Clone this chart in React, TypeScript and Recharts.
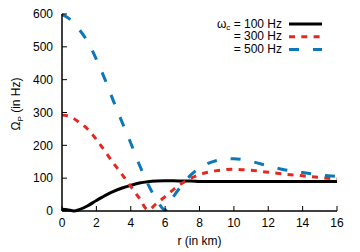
import React from "react";
import {
    LineChart,
    Line,
    XAxis,
    YAxis,
} from "recharts";

// radius (km) and the three precession curves
const rKm = [0, 0.3, 0.7, 1, 1.5, 2, 2.5, 3, 3.5, 4, 4.5, 5, 5.5, 6, 6.5, 7, 7.5, 8, 8.5, 9, 9.5, 10, 11, 12, 13, 14, 15, 16];
const omega100 = [5, 4, 0, 4, 16, 32, 47, 60, 70, 78, 85, 89, 91, 92, 92, 91, 91, 90, 90, 90, 90, 90, 90, 90, 90, 90, 90, 90];
const omega300 = [292, 290, 281, 270, 249, 218, 182, 145, 111, 75, 39, 3, 23, 44, 66, 85, 100, 111, 118, 123, 126, 127, 124, 118, 112, 107, 102, 97];
const omega500 = [598, 590, 572, 553, 515, 462, 401, 334, 270, 207, 141, 82, 35, 3, 45, 80, 110, 131, 145, 154, 159, 159, 151, 137, 125, 117, 110, 105];

const xTicks = [0, 2, 4, 6, 8, 10, 12, 14, 16];
const yTicks = [0, 100, 200, 300, 400, 500, 600];

const seriesNames = ["= 100 Hz", "= 300 Hz", "= 500 Hz"];

const data = rKm.map((r, i) => ({
    r,
    w100: omega100[i],
    w300: omega300[i],
    w500: omega500[i],
}));

const RED = "#e5281f";
const BLUE = "#0b78b9";
const FONT = "Liberation Sans, Arial, sans-serif";
const RED_DASH = "6 6.3";
const BLUE_DASH = "10 14";

const BottomTick = ({ x, y, payload }: any) => (
    <g>
        <line x1={x} x2={x} y1={y} y2={y - 5} stroke="#000" strokeWidth={1} />
        <text x={x} y={y + 16} textAnchor="middle" fontSize={12} fill="#000" fontFamily={FONT}>
            {payload.value}
        </text>
    </g>
);

const LeftTick = ({ x, y, payload }: any) => (
    <g>
        <line x1={x} x2={x + 5} y1={y} y2={y} stroke="#000" strokeWidth={1} />
        <text x={x - 9} y={y + 4.3} textAnchor="end" fontSize={12} fill="#000" fontFamily={FONT}>
            {payload.value}
        </text>
    </g>
);

const TopTick = ({ x, y }: any) => (
    <line x1={x} x2={x} y1={y} y2={y + 5} stroke="#000" strokeWidth={1} />
);

const RightTick = ({ x, y }: any) => (
    <line x1={x} x2={x - 5} y1={y} y2={y} stroke="#000" strokeWidth={1} />
);

const YLabel = () => (
    <text
        transform="translate(20, 104) rotate(-90)"
        textAnchor="middle"
        fontSize={12}
        fontFamily={FONT}
        fill="#000"
    >
        Ω<tspan fontSize={8} dy={3}>P</tspan>
        <tspan dy={-3}> (in Hz)</tspan>
    </text>
);

// legend drawn on top of the plot, upper right corner
const LegendBox = () => {
    const rows = [
        { color: "#000", dash: undefined },
        { color: RED, dash: RED_DASH },
        { color: BLUE, dash: BLUE_DASH },
    ];
    return (
        <svg
            width={150}
            height={45}
            style={{ position: "absolute", left: 180, top: 15, overflow: "visible" }}
        >
            {rows.map((row, i) => (
                <g key={i}>
                    <text
                        x={102}
                        y={12.5 + i * 12.7}
                        textAnchor="end"
                        fontSize={12}
                        fontFamily={FONT}
                        fill="#000"
                    >
                        {i === 0 && (
                            <>
                                ω<tspan fontSize={8} dy={2}>c</tspan>
                                <tspan dy={-2}> </tspan>
                            </>
                        )}
                        {seriesNames[i]}
                    </text>
                    <line
                        x1={109}
                        x2={142}
                        y1={9 + i * 12.7}
                        y2={9 + i * 12.7}
                        stroke={row.color}
                        strokeWidth={3}
                        strokeDasharray={row.dash}
                    />
                </g>
            ))}
        </svg>
    );
};

export default function App() {
    return (
        <div style={{ position: "absolute", left: 0, top: 0, width: 360, height: 252, background: "#fff" }}>
            <LineChart
                width={360}
                height={252}
                data={data}
                margin={{ top: 14, right: 23, bottom: 0, left: 0 }}
            >
                <XAxis
                    dataKey="r"
                    type="number"
                    domain={[0, 16]}
                    ticks={xTicks}
                    interval={0}
                    height={41}
                    tickSize={0}
                    tickMargin={0}
                    tickLine={false}
                    tick={<BottomTick />}
                    axisLine={{ stroke: "#000", strokeWidth: 1.5 }}
                    label={{
                        value: "r (in km)",
                        position: "insideBottom",
                        offset: 7,
                        fill: "#000",
                        fontSize: 12,
                        fontFamily: FONT,
                    }}
                />
                <XAxis
                    xAxisId="top"
                    dataKey="r"
                    type="number"
                    orientation="top"
                    domain={[0, 16]}
                    ticks={xTicks}
                    interval={0}
                    height={0}
                    tickSize={0}
                    tickMargin={0}
                    tickLine={false}
                    tick={<TopTick />}
                    axisLine={{ stroke: "#333", strokeWidth: 1.5 }}
                />
                <YAxis
                    type="number"
                    domain={[0, 600]}
                    ticks={yTicks}
                    interval={0}
                    width={62}
                    tickSize={0}
                    tickMargin={0}
                    tickLine={false}
                    tick={<LeftTick />}
                    axisLine={{ stroke: "#000", strokeWidth: 1.5 }}
                    label={<YLabel />}
                />
                <YAxis
                    yAxisId="right"
                    orientation="right"
                    type="number"
                    domain={[0, 600]}
                    ticks={yTicks}
                    interval={0}
                    width={0}
                    tickSize={0}
                    tickMargin={0}
                    tickLine={false}
                    tick={<RightTick />}
                    axisLine={{ stroke: "#000", strokeWidth: 1.5 }}
                />
                <Line
                    type="monotone"
                    dataKey="w100"
                    stroke="#000"
                    strokeWidth={3}
                    dot={false}
                    isAnimationActive={false}
                />
                <Line
                    type="monotone"
                    dataKey="w300"
                    stroke={RED}
                    strokeWidth={3}
                    strokeDasharray={RED_DASH}
                    dot={false}
                    isAnimationActive={false}
                />
                <Line
                    type="monotone"
                    dataKey="w500"
                    stroke={BLUE}
                    strokeWidth={3}
                    strokeDasharray={BLUE_DASH}
                    dot={false}
                    isAnimationActive={false}
                />
            </LineChart>
            <LegendBox />
        </div>
    );
}
